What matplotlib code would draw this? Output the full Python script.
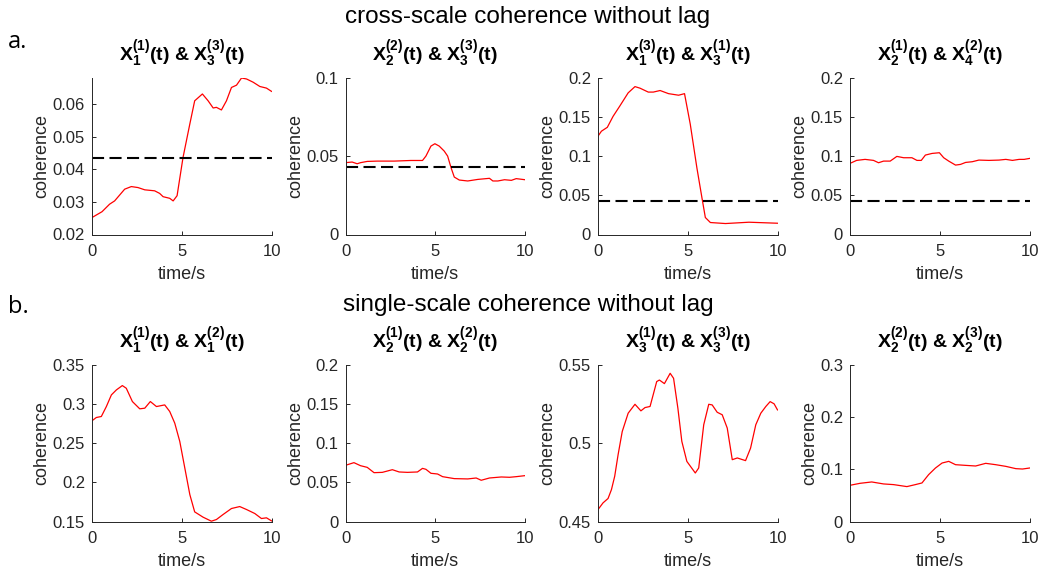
import matplotlib
matplotlib.use("Agg")
import matplotlib.pyplot as plt
from matplotlib.ticker import FuncFormatter

plt.rcParams['font.family'] = ['Liberation Sans', 'DejaVu Sans']
plt.rcParams['mathtext.fontset'] = 'custom'
plt.rcParams['mathtext.rm'] = 'Liberation Sans:bold'
plt.rcParams['mathtext.it'] = 'Liberation Sans:bold'
plt.rcParams['mathtext.bf'] = 'Liberation Sans:bold'
plt.rcParams['mathtext.default'] = 'bf'

# ---------------- data ----------------
threshold = 0.0434

t1 = [0, 0.56, 0.98, 1.26, 1.82, 2.19, 2.56, 2.94, 3.49, 3.77, 3.96, 4.33, 4.52, 4.74, 5.07,
      5.45, 5.72, 6.15, 6.47, 6.75, 6.93, 7.21, 7.49, 7.77, 8.05, 8.33, 8.61, 8.98, 9.35, 9.72, 10]
c1 = [0.0252, 0.0270, 0.0293, 0.0303, 0.0339, 0.0347, 0.0344, 0.0337, 0.0334, 0.0326, 0.0316,
      0.0311, 0.0303, 0.0319, 0.0436, 0.0539, 0.0610, 0.0631, 0.0610, 0.0588, 0.0590, 0.0582,
      0.0610, 0.0651, 0.0658, 0.0680, 0.0677, 0.0667, 0.0654, 0.0649, 0.0639]

t2 = [0, 0.37, 0.65, 0.84, 1.21, 1.77, 2.71, 3.64, 4.29, 4.48, 4.76, 4.98, 5.22, 5.50, 5.69,
      5.88, 6.06, 6.34, 6.81, 7.37, 8.02, 8.21, 8.49, 8.86, 9.24, 9.51, 10]
c2 = [0.0459, 0.0463, 0.0452, 0.0459, 0.0467, 0.0469, 0.0469, 0.0473, 0.0473, 0.0501, 0.0565,
      0.0580, 0.0565, 0.0533, 0.0501, 0.0427, 0.0367, 0.0348, 0.0342, 0.0352, 0.0359, 0.0342,
      0.0342, 0.0350, 0.0346, 0.0357, 0.0350]

t3 = [0, 0.19, 0.52, 0.84, 1.21, 1.68, 2.06, 2.34, 2.80, 3.08, 3.46, 3.93, 4.49, 4.82, 5.14,
      5.51, 5.79, 5.98, 6.26, 7.10, 8.41, 10]
c3 = [0.1257, 0.132, 0.137, 0.151, 0.164, 0.181, 0.189, 0.187, 0.182, 0.182, 0.184, 0.180,
      0.178, 0.180, 0.141, 0.085, 0.047, 0.0217, 0.0153, 0.0140, 0.0157, 0.0144]

t4 = [0, 0.37, 0.84, 1.31, 1.59, 1.87, 2.24, 2.61, 2.99, 3.45, 3.73, 3.97, 4.20, 4.57, 4.98,
      5.22, 5.50, 5.88, 6.16, 6.44, 6.81, 7.18, 7.74, 8.30, 8.68, 9.05, 9.42, 9.70, 10]
c4 = [0.0909, 0.0947, 0.0960, 0.0947, 0.0917, 0.0938, 0.0938, 0.0998, 0.0981, 0.0981, 0.0947,
      0.0947, 0.1015, 0.1036, 0.1045, 0.0981, 0.0938, 0.0887, 0.0896, 0.0921, 0.0930, 0.0951,
      0.0947, 0.0951, 0.0960, 0.0947, 0.0960, 0.0960, 0.0972]

t5 = [0, 0.24, 0.52, 0.80, 1.08, 1.36, 1.69, 1.91, 2.25, 2.66, 2.94, 3.25, 3.59, 4.05, 4.33,
      4.61, 4.89, 5.17, 5.45, 5.72, 6.19, 6.65, 6.93, 7.30, 7.77, 8.23, 8.61, 9.07, 9.44, 9.72, 10]
c5 = [0.2787, 0.2829, 0.2842, 0.2969, 0.3118, 0.3182, 0.3237, 0.3203, 0.3033, 0.2940, 0.2948,
      0.3033, 0.2969, 0.2990, 0.2906, 0.2757, 0.2523, 0.2184, 0.1844, 0.1623, 0.1555, 0.1504,
      0.1525, 0.1589, 0.1666, 0.1691, 0.1653, 0.1602, 0.1538, 0.1547, 0.1508]

t6 = [0, 0.47, 0.84, 1.21, 1.59, 2.05, 2.61, 2.99, 3.45, 4.01, 4.29, 4.48, 4.76, 5.13, 5.41,
      6.06, 6.81, 7.28, 7.56, 8.02, 8.68, 9.14, 9.51, 10]
c6 = [0.0718, 0.0752, 0.0713, 0.0692, 0.0624, 0.0628, 0.0662, 0.0633, 0.0628, 0.0633, 0.0679,
      0.0667, 0.0616, 0.0607, 0.0573, 0.0548, 0.0544, 0.0556, 0.0527, 0.0556, 0.0569, 0.0565,
      0.0573, 0.0586]

t7 = [0, 0.28, 0.56, 0.75, 0.93, 1.12, 1.35, 1.68, 2.06, 2.39, 2.62, 2.90, 3.27, 3.42, 3.70,
      4.02, 4.21, 4.45, 4.67, 4.95, 5.42, 5.61, 5.89, 6.17, 6.36, 6.64, 6.92, 7.20, 7.48, 7.76,
      8.22, 8.50, 8.79, 9.07, 9.35, 9.59, 9.81, 10]
c7 = [0.4576, 0.4619, 0.4647, 0.4704, 0.4789, 0.4927, 0.5075, 0.5192, 0.5249, 0.5207, 0.5228,
      0.5235, 0.5394, 0.5404, 0.5381, 0.5447, 0.5415, 0.5224, 0.5012, 0.4884, 0.4810, 0.4842,
      0.5118, 0.5249, 0.5245, 0.5198, 0.5182, 0.5097, 0.4895, 0.4906, 0.4889, 0.4969, 0.5118,
      0.5192, 0.5235, 0.5266, 0.5252, 0.5213]

t8 = [0, 0.56, 1.21, 1.87, 2.43, 3.17, 3.64, 4.01, 4.38, 4.76, 5.13, 5.50, 5.88, 6.44, 7.00,
      7.56, 8.12, 8.68, 9.24, 9.61, 10]
c8 = [0.0694, 0.0732, 0.0758, 0.0720, 0.0707, 0.0669, 0.0707, 0.0739, 0.0898, 0.1025, 0.1121,
      0.1153, 0.1089, 0.1076, 0.1064, 0.1115, 0.1089, 0.1057, 0.1013, 0.1006, 0.1025]

titles = [
    r'$X_1^{(1)}(t)$ & $X_3^{(3)}(t)$',
    r'$X_2^{(2)}(t)$ & $X_3^{(3)}(t)$',
    r'$X_1^{(3)}(t)$ & $X_3^{(1)}(t)$',
    r'$X_2^{(1)}(t)$ & $X_4^{(2)}(t)$',
    r'$X_1^{(1)}(t)$ & $X_1^{(2)}(t)$',
    r'$X_2^{(1)}(t)$ & $X_2^{(2)}(t)$',
    r'$X_3^{(1)}(t)$ & $X_3^{(3)}(t)$',
    r'$X_2^{(2)}(t)$ & $X_2^{(3)}(t)$',
]
times = [t1, t2, t3, t4, t5, t6, t7, t8]
values = [c1, c2, c3, c4, c5, c6, c7, c8]
ylims = [(0.02, 0.068), (0, 0.1), (0, 0.2), (0, 0.2), (0.15, 0.35), (0, 0.2), (0.45, 0.55), (0, 0.3)]
yticks = [[0.02, 0.03, 0.04, 0.05, 0.06], [0, 0.05, 0.1], [0, 0.05, 0.1, 0.15, 0.2],
          [0, 0.05, 0.1, 0.15, 0.2], [0.15, 0.2, 0.25, 0.3, 0.35], [0, 0.05, 0.1, 0.15, 0.2],
          [0.45, 0.5, 0.55], [0, 0.1, 0.2, 0.3]]
show_threshold = [True, True, True, True, False, False, False, False]
xticks = [0, 5, 10]

# ---------------- figure ----------------
W, H = 1041, 573
fig = plt.figure(figsize=(W / 100, H / 100), dpi=100)

col_left = [92, 345.5, 598, 850]
ax_w = 179.5
row_top = [78, 365]
ax_h = 156.5

axis_col = '#262626'
for i in range(8):
    r, c = divmod(i, 4)
    ax = fig.add_axes([col_left[c] / W, 1 - (row_top[r] + ax_h) / H, ax_w / W, ax_h / H])
    ax.plot(times[i], values[i], color='red', lw=0.9)
    if show_threshold[i]:
        ax.axhline(threshold, color='black', lw=1.5, dashes=(5.8, 2.6))
    ax.set_xlim(0, 10)
    ax.set_ylim(*ylims[i])
    ax.set_xticks(xticks)
    ax.set_yticks(yticks[i])
    ax.yaxis.set_major_formatter(FuncFormatter(lambda v, p: '%g' % round(v, 4)))
    for s in ['top', 'right']:
        ax.spines[s].set_visible(False)
    for s in ['left', 'bottom']:
        ax.spines[s].set_color(axis_col)
        ax.spines[s].set_linewidth(0.7)
    ax.tick_params(direction='in', length=3, width=0.7, color=axis_col,
                   labelcolor=axis_col, labelsize=12)
    ax.tick_params(axis='x', pad=7)
    ax.tick_params(axis='y', pad=5)
    ax.set_xlabel('time/s', fontsize=13, color=axis_col, labelpad=5)
    ax.set_ylabel('coherence', fontsize=13, color=axis_col, labelpad=1.5)
    ax.set_title(titles[i], fontsize=14, fontweight='bold', pad=12)

fig.text(528 / W, 1 - 17 / H, 'cross-scale coherence without lag', ha='center', va='center',
         fontsize=17.5)
fig.text(528 / W, 1 - 305 / H, 'single-scale coherence without lag', ha='center', va='center',
         fontsize=17.5)
fig.text(8 / W, 1 - 42 / H, 'a.', ha='left', va='center', fontsize=17, family='Open Sans')
fig.text(8 / W, 1 - 307 / H, 'b.', ha='left', va='center', fontsize=17, family='Open Sans')

fig.savefig('out.png', dpi=100)
